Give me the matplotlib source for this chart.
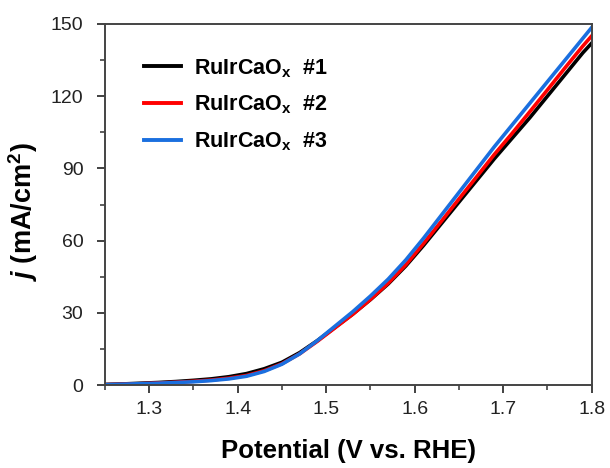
import numpy as np
import matplotlib
matplotlib.use("Agg")
import matplotlib.pyplot as plt
from matplotlib.ticker import MultipleLocator

plt.rcParams['font.family'] = ['Liberation Sans', 'DejaVu Sans']
plt.rcParams['mathtext.fontset'] = 'custom'
plt.rcParams['mathtext.rm'] = 'Liberation Sans:bold'
plt.rcParams['mathtext.it'] = 'Liberation Sans:italic:bold'
plt.rcParams['mathtext.bf'] = 'Liberation Sans:bold'

# potential (V vs. RHE)
potential = [1.25, 1.27, 1.29, 1.31, 1.33, 1.35, 1.37, 1.39, 1.41, 1.43,
             1.45, 1.47, 1.49, 1.51, 1.53, 1.55, 1.57, 1.59, 1.61, 1.63,
             1.65, 1.67, 1.69, 1.71, 1.73, 1.75, 1.77, 1.79, 1.80]

# current density (mA/cm2)
j_1 = [0.3, 0.5, 0.8, 1.1, 1.5, 2.0, 2.6, 3.5, 4.8, 6.8,
       9.5, 13.5, 18.5, 24.0, 29.5, 35.5, 42.0, 49.5, 58.0, 67.0,
       76.0, 85.0, 94.0, 102.5, 111.0, 120.0, 129.0, 138.0, 142.0]
j_2 = [0.2, 0.4, 0.6, 0.9, 1.2, 1.6, 2.1, 2.9, 4.0, 6.0,
       8.9, 13.0, 18.2, 23.8, 29.4, 35.6, 42.3, 50.0, 58.8, 68.0,
       77.3, 86.5, 95.8, 104.5, 113.5, 122.6, 131.8, 140.8, 145.0]
j_3 = [0.2, 0.4, 0.6, 0.8, 1.1, 1.4, 1.9, 2.6, 3.7, 5.7,
       8.7, 13.0, 18.5, 24.5, 30.5, 37.0, 44.0, 52.0, 61.0, 70.5,
       80.0, 89.5, 99.0, 108.0, 117.0, 126.0, 135.0, 144.0, 148.5]

labels = [r'RuIrCaO$_{\mathrm{x}}$  #1', r'RuIrCaO$_{\mathrm{x}}$  #2', r'RuIrCaO$_{\mathrm{x}}$  #3']
colors = ['#000000', '#ff0000', '#1a6fdf']

fig = plt.figure(figsize=(6.1, 4.68), dpi=100)
ax = fig.add_axes([0.172, 0.177, 0.798, 0.772])

for j, lab, c in zip([j_1, j_2, j_3], labels, colors):
    ax.plot(potential, j, color=c, lw=2.6, label=lab)

ax.set_xlim(1.25, 1.8)
ax.set_ylim(0, 150)
ax.xaxis.set_major_locator(MultipleLocator(0.1))
ax.xaxis.set_minor_locator(MultipleLocator(0.05))
ax.yaxis.set_major_locator(MultipleLocator(30))
ax.yaxis.set_minor_locator(MultipleLocator(15))
ax.tick_params(which='major', direction='out', length=5.5, width=1.3, labelsize=14, colors='#333333', labelcolor='#222222')
ax.tick_params(which='minor', direction='out', length=3.6, width=1.1, colors='#333333')
ax.tick_params(axis='x', which='major', pad=6)
ax.tick_params(axis='y', which='major', pad=10)
for s in ax.spines.values():
    s.set_linewidth(1.4)
    s.set_color('#444444')

ax.set_xlabel('Potential (V vs. RHE)', fontsize=18.5, fontweight='bold', labelpad=15)
ax.set_ylabel(r'$j$ (mA/cm$^{2}$)', fontsize=19.5, fontweight='bold', labelpad=8, y=0.48)

leg = ax.legend(loc='upper left', bbox_to_anchor=(0.04, 0.962), frameon=False,
                prop={'weight': 'bold', 'size': 15.5}, handlelength=1.75,
                handletextpad=0.6, labelspacing=0.66)
for line in leg.get_lines():
    line.set_linewidth(2.8)

fig.savefig('out.png', dpi=100)
